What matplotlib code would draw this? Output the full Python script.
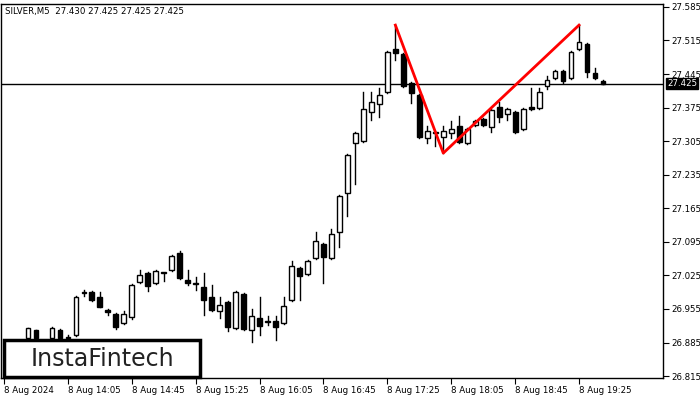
import matplotlib
matplotlib.use("Agg")
import matplotlib.pyplot as plt
from matplotlib.patches import Rectangle

opens = [26.894, 26.911, 26.880, 26.894, 26.911, 26.894, 26.901, 26.988, 26.990, 26.980,
         26.953, 26.944, 26.926, 26.938, 27.011, 27.030, 27.009, 27.030, 27.036, 27.072,
         27.015, 27.007, 27.001, 26.980, 26.951, 26.969, 26.915, 26.986, 26.911, 26.936,
         26.928, 26.930, 26.926, 26.974, 27.040, 27.028, 27.061, 27.090, 27.061, 27.115,
         27.197, 27.301, 27.305, 27.366, 27.383, 27.408, 27.497, 27.487, 27.426, 27.401,
         27.312, 27.322, 27.314, 27.322, 27.337, 27.301, 27.339, 27.351, 27.335, 27.376,
         27.362, 27.366, 27.330, 27.376, 27.374, 27.420, 27.437, 27.451, 27.437, 27.497,
         27.508, 27.447, 27.431]
highs = [26.915, 26.911, 26.885, 26.917, 26.913, 26.901, 26.982, 26.994, 26.992, 26.990,
         26.955, 26.946, 26.951, 27.007, 27.036, 27.032, 27.036, 27.030, 27.067, 27.076,
         27.036, 27.022, 27.030, 27.005, 26.980, 26.971, 26.992, 26.988, 26.955, 26.980,
         26.940, 26.940, 26.980, 27.055, 27.042, 27.057, 27.115, 27.092, 27.122, 27.193,
         27.278, 27.324, 27.408, 27.408, 27.416, 27.493, 27.547, 27.489, 27.428, 27.403,
         27.337, 27.324, 27.337, 27.347, 27.358, 27.332, 27.349, 27.353, 27.372, 27.387,
         27.374, 27.368, 27.374, 27.416, 27.416, 27.441, 27.453, 27.453, 27.493, 27.547,
         27.510, 27.458, 27.433]
lows = [26.885, 26.885, 26.860, 26.890, 26.888, 26.886, 26.899, 26.982, 26.972, 26.959,
        26.942, 26.913, 26.924, 26.934, 27.009, 26.992, 27.007, 27.013, 27.034, 27.017,
        27.005, 26.994, 26.942, 26.951, 26.936, 26.909, 26.913, 26.911, 26.886, 26.901,
        26.922, 26.890, 26.924, 26.972, 26.974, 27.026, 27.059, 27.009, 27.059, 27.084,
        27.149, 27.216, 27.303, 27.349, 27.355, 27.406, 27.474, 27.418, 27.385, 27.312,
        27.301, 27.295, 27.280, 27.312, 27.301, 27.299, 27.337, 27.337, 27.324, 27.345,
        27.349, 27.322, 27.328, 27.370, 27.372, 27.414, 27.435, 27.426, 27.435, 27.495,
        27.439, 27.435, 27.424]
closes = [26.915, 26.894, 26.870, 26.915, 26.894, 26.896, 26.980, 26.990, 26.974, 26.959,
          26.949, 26.917, 26.944, 27.005, 27.026, 27.003, 27.034, 27.030, 27.065, 27.019,
          27.009, 27.007, 26.974, 26.953, 26.963, 26.917, 26.990, 26.913, 26.940, 26.920,
          26.928, 26.917, 26.961, 27.044, 27.024, 27.055, 27.097, 27.063, 27.111, 27.191,
          27.276, 27.322, 27.372, 27.387, 27.401, 27.491, 27.489, 27.420, 27.405, 27.314,
          27.326, 27.322, 27.326, 27.330, 27.303, 27.330, 27.347, 27.339, 27.370, 27.355,
          27.372, 27.324, 27.372, 27.372, 27.408, 27.433, 27.451, 27.431, 27.491, 27.512,
          27.449, 27.437, 27.425]

price_ticks = [26.815, 26.885, 26.955, 27.025, 27.095, 27.165, 27.235, 27.305,
               27.375, 27.445, 27.515, 27.585]
time_ticks = [-3, 5, 13, 21, 29, 37, 45, 53, 61, 69]
time_labels = ["8 Aug 2024", "8 Aug 14:05", "8 Aug 14:45", "8 Aug 15:25", "8 Aug 16:05",
               "8 Aug 16:45", "8 Aug 17:25", "8 Aug 18:05", "8 Aug 18:45", "8 Aug 19:25"]
pattern_x = [46, 52, 69]
pattern_y = [27.547, 27.280, 27.547]
last_price = 27.425

fig = plt.figure(figsize=(7, 4), dpi=100)
ax = fig.add_axes([0.0015, 0.055, 0.9455, 0.935])
for i, (o, h, l, c) in enumerate(zip(opens, highs, lows, closes)):
    ax.plot([i, i], [l, h], color="black", lw=1, zorder=2)
    bottom, height = min(o, c), max(abs(c - o), 0.0012)
    ax.add_patch(Rectangle((i - 0.3, bottom), 0.6, height, facecolor="white" if c >= o else "black",
                           edgecolor="black", lw=1, zorder=3))
ax.plot(pattern_x, pattern_y, color="#ff0000", lw=2, zorder=4)
ax.axhline(last_price, color="black", lw=1, zorder=1)
ax.set_xlim(-3.375, 79.5)
ax.set_ylim(26.811, 27.591)
ax.yaxis.tick_right()
ax.set_yticks(price_ticks)
ax.set_yticklabels([f"{p:.3f}" for p in price_ticks])
ax.set_xticks(time_ticks)
ax.set_xticklabels(time_labels, ha="left")
ax.tick_params(labelsize=6.2, length=4, direction="out", pad=2, colors="black")
ax.text(0.006, 0.992, "SILVER,M5  27.430 27.425 27.425 27.425", transform=ax.transAxes,
        fontsize=6.2, va="top", ha="left")
ax.text(1.006, last_price, f"{last_price:.3f}", transform=ax.get_yaxis_transform(), fontsize=6.2,
        color="white", va="center", ha="left",
        bbox=dict(facecolor="black", edgecolor="black", boxstyle="square,pad=0.15"))
for s in ax.spines.values():
    s.set_linewidth(1)

fig.patches.append(Rectangle((0.006, 0.057), 0.28, 0.092, transform=fig.transFigure,
                             facecolor="white", edgecolor="black", lw=2.5, zorder=10))
fig.text(0.146, 0.103, "InstaFintech", fontsize=17, ha="center", va="center", color="#222222",
         zorder=11)
fig.savefig("out.png", dpi=100)
